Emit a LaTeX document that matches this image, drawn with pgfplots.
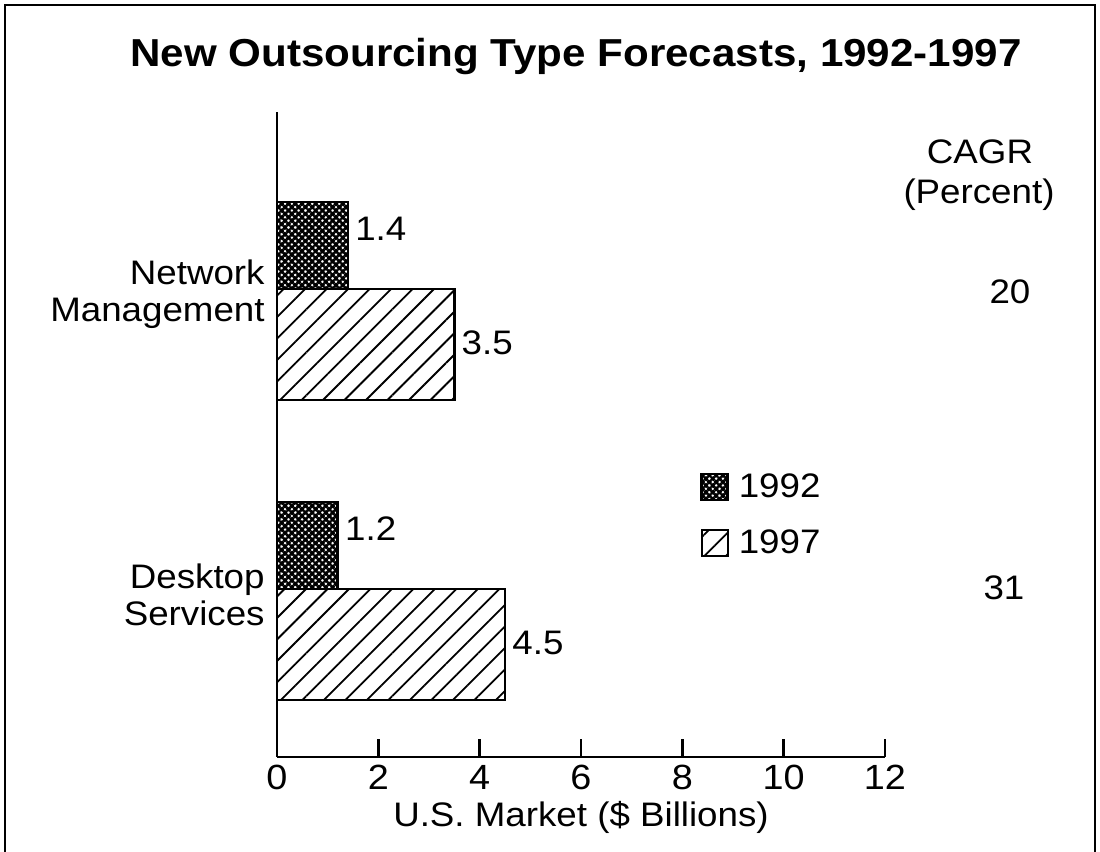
\documentclass[border=0pt]{standalone}
\usepackage{fontspec}
\setmainfont{Liberation Sans}[FakeStretch=1.08]
\usepackage{pgfplots}
\pgfplotsset{compat=1.18}
\usetikzlibrary{patterns.meta}

\newcommand\lab{\fontsize{17}{20}\selectfont}

\tikzset{
  crossfill/.style={preaction={pattern={Lines[angle=-45,distance=2.4pt,line width=1.3pt]}},
                    pattern={Lines[angle=45,distance=2.4pt,line width=1.3pt]}},
  hatchfill/.style={pattern={Lines[angle=45,distance=7.6pt,line width=0.9pt]}}
}

\begin{document}
\begin{tikzpicture}
% page frame and free text, in pixel units of the 1100x852 picture
\begin{scope}[x=0.5pt,y=0.5pt]
\useasboundingbox (0,0) rectangle (1100,852);
\draw[line width=1pt] (5,0) -- (5,847) -- (1095,847) -- (1095,0);
\node[anchor=base,font=\fontsize{19.5}{22}\selectfont\bfseries] at (576,785) {New Outsourcing Type Forecasts, 1992-1997};
\node[anchor=base,font=\lab] at (980,688) {CAGR};
\node[anchor=base,font=\lab] at (979,648) {(Percent)};
\node[anchor=base,font=\lab] at (1010,548) {20};
\node[anchor=base,font=\lab] at (1004,252) {31};
\end{scope}

\begin{axis}[
  at={(138.5pt,47.5pt)}, anchor=south west, scale only axis,
  width=304pt, height=322.5pt,
  xmin=0, xmax=12, ymin=-0.56, ymax=1.59,
  clip=false,
  axis x line=bottom, axis y line=left,
  axis line style={line width=1.4pt,-},
  xtick={0,2,4,6,8,10,12},
  ytick={0,1},
  yticklabels={{Desktop\\Services},{Network\\Management}},
  tick align=inside, major tick length=9pt,
  x tick style={line width=1.2pt,black},
  y tick style={draw=none},
  /pgf/number format/assume math mode=true,
  xticklabel style={font=\fontsize{17.5}{20}\selectfont,inner sep=0pt,yshift=-4pt},
  yticklabel style={font=\fontsize{17}{18.5}\selectfont,align=right,inner sep=0pt,xshift=-6pt,yshift=-2.8pt},
  xlabel={U.S. Market (\$ Billions)},
  xlabel style={font=\lab,at={(axis description cs:0.5,0)},anchor=base,yshift=-35pt},
  every node near coord/.append style={font=\lab,inner sep=0pt,anchor=west,xshift=3pt},
  legend style={at={(rel axis cs:0.696,0.443)},anchor=north west,draw=none,fill=none,
    font=\lab,row sep=12.5pt,column sep=4pt,inner sep=0pt,nodes={inner sep=1pt}},
  legend cell align=left,
  legend image code/.code={\draw[#1,line width=1.1pt] (0pt,-6.5pt) rectangle (13pt,6.5pt);},
]
\addplot[xbar,draw=black,line width=1.4pt,bar width=0.29,bar shift=0.145,crossfill,
  nodes near coords,point meta=x,
  every node near coord/.append style={yshift=30pt}]
  coordinates {(1.2,0) (1.4,1)};
\addplot[xbar,draw=black,line width=1.4pt,bar width=0.37,bar shift=-0.185,hatchfill,
  nodes near coords,point meta=x,
  every node near coord/.append style={yshift=-27pt}]
  coordinates {(4.5,0) (3.5,1)};
\legend{1992,1997}
\end{axis}
\end{tikzpicture}
\end{document}
